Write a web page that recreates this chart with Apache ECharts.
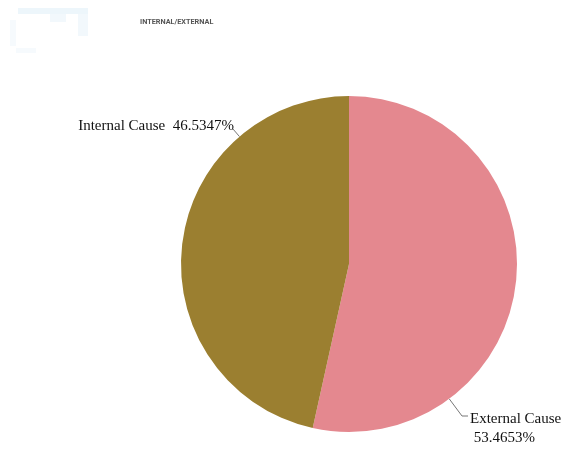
<!DOCTYPE html>
<html>
<head>
<meta charset="utf-8">
<script src="https://cdn.jsdelivr.net/npm/echarts@6/dist/echarts.min.js"></script>
<style>
  html, body { margin: 0; padding: 0; background: #fff; }
  #main { width: 562px; height: 450px; }
</style>
</head>
<body>
<div id="main"></div>
<script>
// data
var causeNames = ['External Cause', 'Internal Cause'];
var causeShare = [53.4653, 46.5347];
var causeColors = ['#e4888f', '#9b7f30'];

var pieCenter = [349, 264];
var pieRadius = 168;

var pieData = [];
for (var i = 0; i < causeNames.length; i++) {
  pieData.push({ name: causeNames[i], value: causeShare[i], itemStyle: { color: causeColors[i] } });
}

// nearest point on the pie's rim to a given point
function rimPoint(p) {
  var dx = p[0] - pieCenter[0], dy = p[1] - pieCenter[1];
  var d = Math.sqrt(dx * dx + dy * dy);
  return [pieCenter[0] + dx / d * pieRadius, pieCenter[1] + dy / d * pieRadius];
}

var myChart = echarts.init(document.getElementById('main'));
var option = {
  backgroundColor: '#fff',
  animation: false,
  title: {
    text: 'INTERNAL/EXTERNAL',
    left: 140,
    top: 19,
    padding: 0,
    textStyle: { fontSize: 7.3, fontWeight: 'bold', color: '#555', fontFamily: 'Roboto' }
  },
  // faint logo remnant in the corner
  graphic: [
    { type: 'rect', shape: { x: 18, y: 8, width: 70, height: 6 }, style: { fill: '#edf6fb' } },
    { type: 'rect', shape: { x: 50, y: 14, width: 16, height: 8 }, style: { fill: '#f2f8fc' } },
    { type: 'rect', shape: { x: 78, y: 14, width: 10, height: 22 }, style: { fill: '#f2f8fc' } },
    { type: 'rect', shape: { x: 10, y: 20, width: 6, height: 26 }, style: { fill: '#f6fafd' } },
    { type: 'rect', shape: { x: 16, y: 48, width: 20, height: 5 }, style: { fill: '#f6fafd' } }
  ],
  series: [{
    type: 'pie',
    center: pieCenter,
    radius: [0, pieRadius],
    startAngle: 90,
    clockwise: true,
    percentPrecision: 4,
    data: pieData,
    label: {
      show: true,
      position: 'outside',
      alignTo: 'none',
      overflow: 'none',
      fontFamily: 'Liberation Serif',
      fontSize: 15,
      color: '#111',
      lineHeight: 19,
      formatter: function (p) {
        if (p.dataIndex === 0) return p.name + '\n ' + p.percent.toFixed(4) + '%';
        return p.name + '  ' + p.percent.toFixed(4) + '%';
      }
    },
    labelLine: { show: true, lineStyle: { color: '#777', width: 1 } },
    labelLayout: function (params) {
      if (params.dataIndex === 0) {
        var a = [468, 416];
        var b = [462, 416];
        return {
          x: 470, y: 429, align: 'left', verticalAlign: 'middle',
          labelLinePoints: [rimPoint(b), b, a]
        };
      }
      var c = [233, 129];
      return {
        x: 234, y: 126, align: 'right', verticalAlign: 'middle',
        labelLinePoints: [rimPoint(c), c, c]
      };
    }
  }]
};
myChart.setOption(option);
</script>
</body>
</html>
